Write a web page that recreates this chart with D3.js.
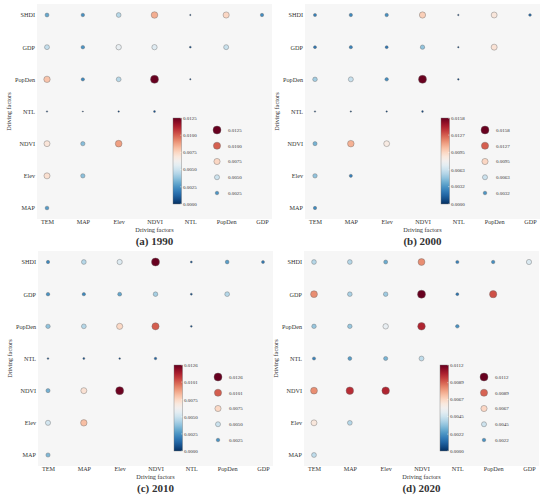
<!DOCTYPE html>
<html>
  <head>
    <meta charset="utf-8">
    <title>Driving factor interactions</title>
    <style>
      body { margin: 0; background: #fff; }
      text { font-family: "Liberation Serif", "Times New Roman", serif; fill: #333; }
    </style>
  </head>
  <body>
    <script src="https://d3js.org/d3.v7.min.js"></script>
    <script type="text/javascript">

      // categories on both axes
      var xFactors = ["TEM", "MAP", "Elev", "NDVI", "NTL", "PopDen", "GDP"];
      var yFactors = ["SHDI", "GDP", "PopDen", "NTL", "NDVI", "Elev", "MAP"];

      var panelTitles = ["(a) 1990", "(b) 2000", "(c) 2010", "(d) 2020"];

      // one row per y factor (top to bottom), one value per x factor
      var values1990 = [
        [0.0030, 0.0024, 0.0045, 0.0085, 0.0004, 0.0075, 0.0023],
        [0.0048, 0.0025, 0.0058, 0.0055, 0.0007, 0.0049],
        [0.0080, 0.0022, 0.0045, 0.0125, 0.0004],
        [0.0004, 0.0003, 0.0005, 0.0008],
        [0.0070, 0.0036, 0.0088],
        [0.0072, 0.0037],
        [0.0027]
      ];
      var values2000 = [
        [0.0025, 0.0028, 0.0030, 0.0098, 0.0006, 0.0088, 0.0018],
        [0.0022, 0.0026, 0.0022, 0.0048, 0.0006, 0.0090],
        [0.0052, 0.0062, 0.0030, 0.0158, 0.0007],
        [0.0005, 0.0005, 0.0006, 0.0008],
        [0.0042, 0.0107, 0.0085],
        [0.0048, 0.0025],
        [0.0028]
      ];
      var values2010 = [
        [0.0022, 0.0045, 0.0055, 0.0126, 0.0008, 0.0028, 0.0018],
        [0.0025, 0.0022, 0.0030, 0.0042, 0.0008, 0.0045],
        [0.0038, 0.0045, 0.0075, 0.0101, 0.0007],
        [0.0006, 0.0008, 0.0006, 0.0012],
        [0.0033, 0.0072, 0.0125],
        [0.0052, 0.0082],
        [0.0035]
      ];
      var values2020 = [
        [0.0040, 0.0040, 0.0028, 0.0082, 0.0018, 0.0021, 0.0048],
        [0.0082, 0.0038, 0.0036, 0.0112, 0.0015, 0.0092],
        [0.0035, 0.0035, 0.0052, 0.0100, 0.0022],
        [0.0018, 0.0025, 0.0030, 0.0042],
        [0.0082, 0.0098, 0.0100],
        [0.0062, 0.0040],
        [0.0042]
      ];

      var scaleMax = [0.0125, 0.01585, 0.0126, 0.0112];

      // colour bar / size legend labels
      var ticks1990 = ["0.0000", "0.0025", "0.0050", "0.0075", "0.0100", "0.0125"];
      var ticks2000 = ["0.0000", "0.0032", "0.0063", "0.0095", "0.0127", "0.0158"];
      var ticks2010 = ["0.0000", "0.0025", "0.0050", "0.0075", "0.0101", "0.0126"];
      var ticks2020 = ["0.0000", "0.0022", "0.0045", "0.0067", "0.0089", "0.0112"];

      var panelValues = [values1990, values2000, values2010, values2020];
      var panelTicks = [ticks1990, ticks2000, ticks2010, ticks2020];

      // panel grey area origins
      var origins = [[37, 4], [305, 4], [38, 251], [304, 251]];
      var pw = 235;
      var ph = 215;

      var svg = d3.select("body")
        .append("svg")
        .attr("width", 550)
        .attr("height", 498);

      var defs = svg.append("defs");

      panelValues.forEach(function(vals, p) {

        var x0 = origins[p][0];
        var y0 = origins[p][1];
        var vmax = scaleMax[p];

        var g = svg.append("g")
          .attr("transform", "translate(" + x0 + "," + y0 + ")");

        var xScale = d3.scalePoint().domain(xFactors).range([10, pw - 10]);
        var yScale = d3.scalePoint().domain(yFactors).range([11, ph - 11]);
        var rScale = d3.scaleSqrt().domain([0, vmax]).range([0, 4]);
        var color = function(v) { return d3.interpolateRdBu(1 - v / vmax); };

        g.append("rect")
          .attr("width", pw)
          .attr("height", ph)
          .attr("fill", "#f6f6f6");

        // flatten the triangular matrix
        var cells = [];
        vals.forEach(function(row, i) {
          row.forEach(function(v, j) {
            cells.push({ x: xFactors[j], y: yFactors[i], v: v });
          });
        });

        g.selectAll("circle.cell")
          .data(cells)
          .enter()
          .append("circle")
          .attr("class", "cell")
          .attr("cx", function(d) { return xScale(d.x); })
          .attr("cy", function(d) { return yScale(d.y); })
          .attr("r", function(d) { return rScale(d.v); })
          .attr("fill", function(d) { return color(d.v); })
          .attr("stroke", "#666")
          .attr("stroke-width", 0.4);

        // axes
        var xAxis = d3.axisBottom(xScale).tickSize(0).tickPadding(0);
        var yAxis = d3.axisLeft(yScale).tickSize(0).tickPadding(2);

        var gx = g.append("g")
          .attr("transform", "translate(0," + (ph + 1) + ")")
          .call(xAxis);
        gx.select(".domain").remove();
        gx.selectAll("text")
          .attr("dy", "0.71em")
          .style("font-size", "6.2px")
          .style("font-family", "'Liberation Serif', serif")
          .attr("fill", "#444");

        var gy = g.append("g").call(yAxis);
        gy.select(".domain").remove();
        gy.selectAll("text")
          .style("font-size", "6.2px")
          .style("font-family", "'Liberation Serif', serif")
          .attr("fill", "#444");

        // axis titles
        g.append("text")
          .attr("x", pw / 2)
          .attr("y", ph + 12.5)
          .attr("text-anchor", "middle")
          .style("font-size", "6.3px")
          .text("Driving factors");

        g.append("text")
          .attr("transform", "translate(-26," + (ph / 2) + ") rotate(-90)")
          .attr("text-anchor", "middle")
          .style("font-size", "6.3px")
          .text("Driving factors");

        // panel title
        g.append("text")
          .attr("x", pw / 2)
          .attr("y", ph + 25.5)
          .attr("text-anchor", "middle")
          .style("font-size", "11px")
          .style("font-weight", "bold")
          .attr("fill", "#000")
          .text(panelTitles[p]);

        // colour bar
        var ticks = panelTicks[p];
        var cbX = 136, cbY = 114, cbW = 8.5, cbH = 86;
        var cbScale = d3.scaleLinear().domain([0, vmax]).range([cbY + cbH, cbY]);

        var grad = defs.append("linearGradient")
          .attr("id", "cb" + p)
          .attr("x1", 0).attr("y1", 1)
          .attr("x2", 0).attr("y2", 0);
        d3.range(0, 1.0001, 0.05).forEach(function(t) {
          grad.append("stop")
            .attr("offset", t)
            .attr("stop-color", d3.interpolateRdBu(1 - t));
        });

        g.append("rect")
          .attr("x", cbX)
          .attr("y", cbY)
          .attr("width", cbW)
          .attr("height", cbH)
          .attr("fill", "url(#cb" + p + ")")
          .attr("stroke", "#777")
          .attr("stroke-width", 0.4);

        var tickVals = ticks.map(function(t) { return Math.min(+t, vmax); });

        g.selectAll("line.cbtick")
          .data(tickVals)
          .enter()
          .append("line")
          .attr("class", "cbtick")
          .attr("x1", cbX + cbW - 1.5)
          .attr("x2", cbX + cbW)
          .attr("y1", function(d) { return cbScale(d); })
          .attr("y2", function(d) { return cbScale(d); })
          .attr("stroke", "#fff")
          .attr("stroke-width", 0.4);

        g.selectAll("text.cblabel")
          .data(ticks)
          .enter()
          .append("text")
          .attr("class", "cblabel")
          .attr("x", cbX + cbW + 1.5)
          .attr("y", function(d, i) { return cbScale(tickVals[i]); })
          .attr("dy", "0.35em")
          .style("font-size", "5px")
          .text(function(d) { return d; });

        // size legend
        var legendVals = ticks.slice(1).reverse();
        var lgScale = d3.scalePoint().domain(legendVals).range([cbY + 12, cbY + 75]);

        g.selectAll("circle.legend")
          .data(legendVals)
          .enter()
          .append("circle")
          .attr("class", "legend")
          .attr("cx", 180)
          .attr("cy", function(d) { return lgScale(d); })
          .attr("r", function(d) { return rScale(Math.min(+d, vmax)); })
          .attr("fill", function(d) { return color(Math.min(+d, vmax)); })
          .attr("stroke", "#666")
          .attr("stroke-width", 0.4);

        g.selectAll("text.legend")
          .data(legendVals)
          .enter()
          .append("text")
          .attr("class", "legend")
          .attr("x", 191)
          .attr("y", function(d) { return lgScale(d); })
          .attr("dy", "0.35em")
          .style("font-size", "5px")
          .text(function(d) { return d; });
      });

    </script>
  </body>
</html>
